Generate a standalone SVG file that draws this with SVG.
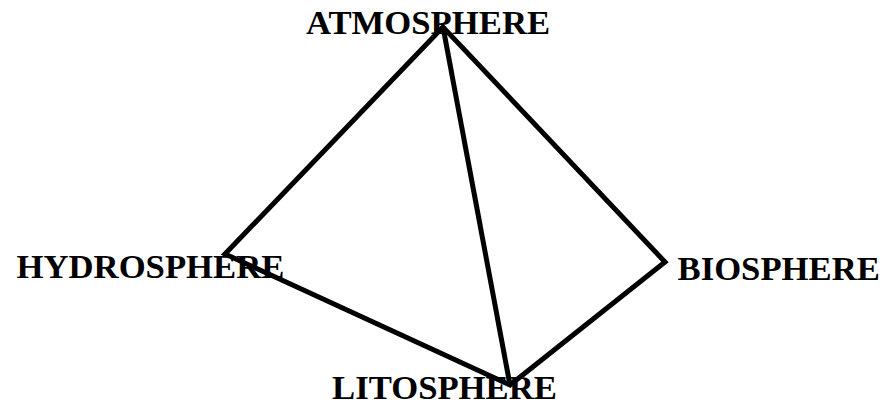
<svg xmlns="http://www.w3.org/2000/svg" width="894" height="402" viewBox="0 0 894 402">
<style>
.lbl{font-family:"Liberation Serif","Times New Roman",serif;font-weight:bold;font-size:34.7px;fill:#000}
.edge{fill:none;stroke:#000;stroke-width:5;stroke-linejoin:miter;stroke-miterlimit:10}
</style>
<rect width="894" height="402" fill="#fff"/>
<g id="connectors">
<polygon class="edge" points="443,27 225,254 510,385 665,262"/>
<line class="edge" x1="443" y1="27" x2="510" y2="385"/>
</g>
<g id="atmosphere"><text class="lbl" x="306" y="33.5">ATMOSPHERE</text></g>
<g id="hydrosphere"><text class="lbl" x="16.5" y="278">HYDROSPHERE</text></g>
<g id="biosphere"><text class="lbl" x="677.5" y="280">BIOSPHERE</text></g>
<g id="litosphere"><text class="lbl" x="332" y="399">LITOSPHERE</text></g>
</svg>
